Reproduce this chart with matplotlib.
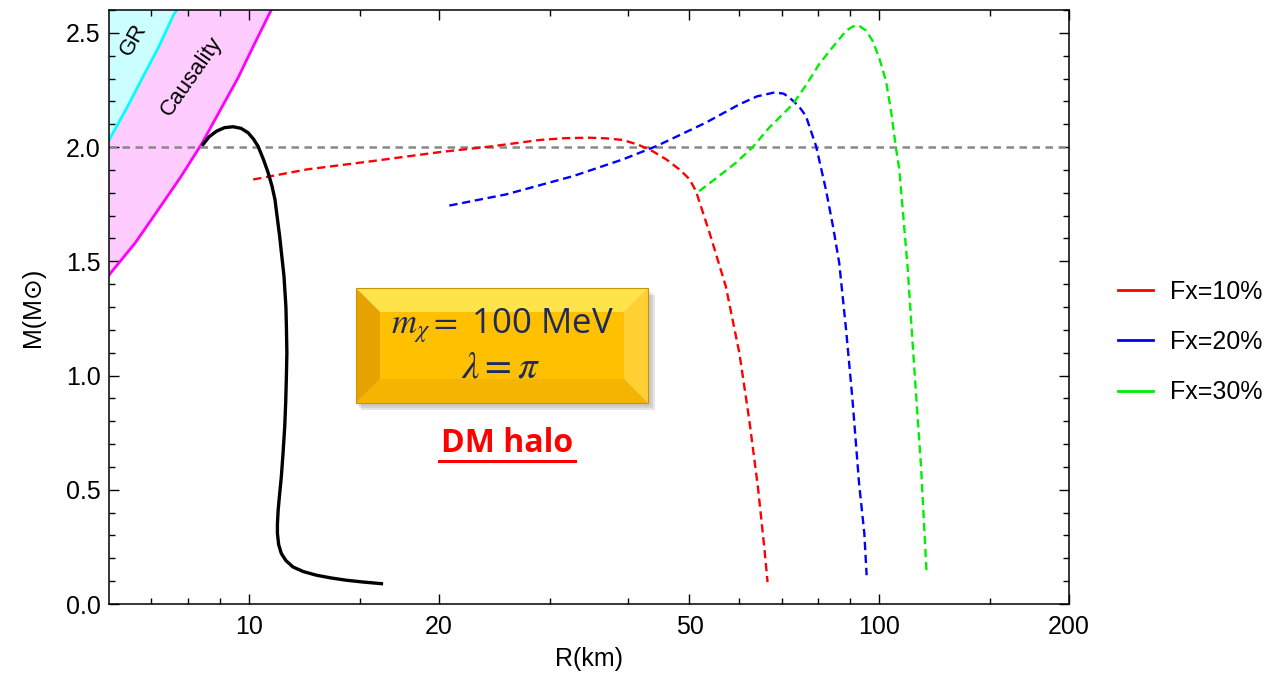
import matplotlib
matplotlib.use("Agg")
import matplotlib.pyplot as plt
from matplotlib.patches import Polygon
from matplotlib.ticker import FixedLocator, NullFormatter

plt.rcParams['font.family'] = ['Liberation Sans', 'DejaVu Sans']
plt.rcParams['mathtext.fontset'] = 'stix'

# normal NS branch (black)
r_ns = [8.46, 8.65, 8.89, 9.15, 9.44, 9.72, 9.97, 10.17, 10.34, 10.55, 10.73, 10.88, 11.0,
        11.19, 11.37, 11.45, 11.47, 11.49, 11.47, 11.44, 11.40, 11.33, 11.26, 11.18, 11.13,
        11.10, 11.10, 11.15, 11.26, 11.45, 11.75, 12.2, 12.80, 13.5, 14.28, 15.2, 16.23]
m_ns = [2.012, 2.045, 2.070, 2.085, 2.089, 2.082, 2.063, 2.035, 2.004, 1.945, 1.888, 1.83, 1.771,
        1.610, 1.434, 1.30, 1.215, 1.10, 0.996, 0.88, 0.776, 0.66, 0.557, 0.47, 0.411,
        0.35, 0.309, 0.26, 0.221, 0.19, 0.162, 0.142, 0.126, 0.114, 0.104, 0.096, 0.089]

# DM halo branches
r_10 = [10.16, 12.35, 15.74, 20.08, 24.09, 28.92, 31.7, 34.7, 37.0, 39.2, 41.5, 43.7, 46.0,
        48.2, 50.0, 51.2, 53.8, 57.1, 60.0, 62.2, 64.2, 65.7, 66.5]
m_10 = [1.858, 1.902, 1.939, 1.978, 2.002, 2.031, 2.039, 2.041, 2.038, 2.031, 2.01, 1.982, 1.945,
        1.902, 1.86, 1.807, 1.625, 1.390, 1.098, 0.806, 0.513, 0.25, 0.096]

r_20 = [20.8, 25.6, 32.7, 39.2, 44.3, 53.1, 60.0, 64.0, 68.2, 70.5, 72.0, 74.5, 76.5, 79.4,
        82.3, 84.5, 86.4, 88.6, 90.7, 92.9, 94.7, 95.5]
m_20 = [1.744, 1.793, 1.873, 1.946, 2.004, 2.107, 2.187, 2.222, 2.239, 2.234, 2.217, 2.18, 2.136,
        2.004, 1.814, 1.65, 1.493, 1.20, 0.893, 0.528, 0.309, 0.126]

r_30 = [51.8, 55.5, 59.3, 63.0, 66.9, 72.9, 76.5, 80.3, 84.5, 88.6, 90.8, 92.9, 95.3, 97.6,
        100.0, 102.5, 104.5, 106.3, 107.6, 110.9, 113.6, 116.5, 118.9]
m_30 = [1.807, 1.87, 1.932, 2.0, 2.085, 2.187, 2.27, 2.363, 2.44, 2.509, 2.528, 2.531, 2.51, 2.465,
        2.39, 2.289, 2.15, 1.997, 1.902, 1.478, 1.04, 0.601, 0.133]

# limit lines
r_gr = [6.0, 6.4, 6.8, 7.2, 7.6, 7.68]
m_gr = [2.03, 2.17, 2.31, 2.44, 2.58, 2.60]
r_caus = [6.0, 6.6, 7.2, 7.8, 8.4, 9.0, 9.6, 10.2, 10.85]
m_caus = [1.44, 1.58, 1.73, 1.87, 2.01, 2.16, 2.30, 2.45, 2.60]

labels = ['Fx=10%', 'Fx=20%', 'Fx=30%']
colors = ['#ff0000', '#0000ff', '#00ee00']

x_major = [10, 20, 50, 100, 200]
x_minor = [7, 8, 9, 15, 30, 40, 60, 70, 80, 90, 150]

W, H = 1278, 688
fig = plt.figure(figsize=(W / 100, H / 100), dpi=100)
ax = fig.add_axes([109 / W, 84 / H, 960 / W, 594 / H])
ax.set_xscale('log')
ax.set_xlim(6, 200)
ax.set_ylim(0, 2.6)

# shaded regions
cyan_poly = list(zip(r_gr, m_gr)) + [(6.0, 2.6)]
ax.add_patch(Polygon(cyan_poly, closed=True, facecolor='#ccffff', edgecolor='none', zorder=1))
mag_poly = list(zip(r_caus, m_caus)) + list(zip(r_gr[::-1], m_gr[::-1]))
ax.add_patch(Polygon(mag_poly, closed=True, facecolor='#ffccff', edgecolor='none', zorder=1))
ax.plot(r_gr, m_gr, color='#00ffff', lw=2, zorder=2)
ax.plot(r_caus, m_caus, color='#ff00ff', lw=2, zorder=2)
ax.text(6.55, 2.47, 'GR', rotation=60, fontsize=16, ha='center', va='center')
ax.text(8.1, 2.31, 'Causality', rotation=55, fontsize=16, ha='center', va='center')

ax.axhline(2.0, color='#888888', lw=1.8, ls=(0, (3, 2.2)), zorder=2)

ax.plot(r_ns, m_ns, color='black', lw=2.4, zorder=4)
for r, m, lab, c in zip([r_10, r_20, r_30], [m_10, m_20, m_30], labels, colors):
    ax.plot(r, m, color=c, lw=1.7, ls=(0, (3.5, 2)), label=lab, zorder=3)

ax.xaxis.set_major_locator(FixedLocator(x_major))
ax.xaxis.set_minor_locator(FixedLocator(x_minor))
ax.xaxis.set_minor_formatter(NullFormatter())
ax.set_xticklabels([str(v) for v in x_major])
ax.set_yticks([0.0, 0.5, 1.0, 1.5, 2.0, 2.5])
ax.set_yticklabels(['0.0', '0.5', '1.0', '1.5', '2.0', '2.5'])
ax.set_yticks([i / 10 for i in range(27) if i % 5], minor=True)
ax.tick_params(which='both', direction='in', top=True, right=True, labelsize=18, width=1)
ax.tick_params(which='major', length=7, pad=6)
ax.tick_params(which='minor', length=4)
ax.tick_params(axis='x', which='major', pad=8)
for s in ax.spines.values():
    s.set_linewidth(1.1)

ax.set_xlabel('R(km)', fontsize=18, labelpad=6)
ax.set_ylabel('M(M\u2299)', fontsize=18, labelpad=15)

leg = ax.legend(loc='center left', bbox_to_anchor=(1.051, 0.441), frameon=False,
                fontsize=18, handlelength=1.4, handletextpad=0.7, labelspacing=1.05,
                borderpad=0, borderaxespad=0)
for h in leg.get_lines():
    h.set_linestyle('-')
    h.set_linewidth(2)


# gold bevelled box (pixel coords, top-left origin)
def fpt(x, y):
    return (x / W, 1 - y / H)


x0, x1, y0, y1, b = 356, 648, 288, 403, 24
for k, a in enumerate([0.06, 0.08, 0.10]):
    d = 3 + 2 * k
    fig.add_artist(Polygon([fpt(x0 + d - 2, y0 + d), fpt(x1 + d, y0 + d), fpt(x1 + d, y1 + d),
                            fpt(x0 + d - 2, y1 + d)], closed=True, facecolor='black',
                           alpha=a, edgecolor='none', transform=fig.transFigure))
faces = [
    ([(x0, y0), (x1, y0), (x1 - b, y0 + b), (x0 + b, y0 + b)], '#ffe34a'),
    ([(x0, y0), (x0 + b, y0 + b), (x0 + b, y1 - b), (x0, y1)], '#e6a300'),
    ([(x1, y0), (x1, y1), (x1 - b, y1 - b), (x1 - b, y0 + b)], '#ffcf33'),
    ([(x0, y1), (x0 + b, y1 - b), (x1 - b, y1 - b), (x1, y1)], '#f5b400'),
    ([(x0 + b, y0 + b), (x1 - b, y0 + b), (x1 - b, y1 - b), (x0 + b, y1 - b)], '#fec000'),
]
for pts, c in faces:
    fig.add_artist(Polygon([fpt(*p) for p in pts], closed=True, facecolor=c,
                           edgecolor='none', transform=fig.transFigure))
fig.add_artist(Polygon([fpt(x0, y0), fpt(x1, y0), fpt(x1, y1), fpt(x0, y1)], closed=True,
                       facecolor='none', edgecolor='#c89400', lw=0.8, transform=fig.transFigure))

navy = '#1c2b5c'
fig.text(*fpt(502, 326), r'$m_{\chi}=$ 100 MeV', fontsize=25, color=navy,
         ha='center', va='center', family=['Open Sans', 'DejaVu Sans'])
fig.text(*fpt(500, 368), r'$\lambda=\pi$', fontsize=28, color=navy, ha='center', va='center')

fig.text(*fpt(507, 443), 'DM halo', fontsize=23, fontweight='bold', color='#ff0000',
         ha='center', va='center', family=['Open Sans', 'DejaVu Sans'])
fig.add_artist(plt.Line2D([439 / W, 575 / W], [1 - 461 / H, 1 - 461 / H], color='#ff0000',
                          lw=2.2, transform=fig.transFigure))

fig.savefig('out.png', dpi=100)
